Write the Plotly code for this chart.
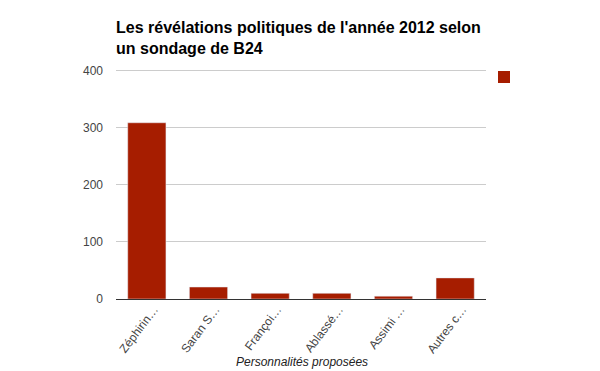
import plotly.graph_objects as go

categories = ["Zéphirin…", "Saran S…", "Françoi…", "Ablassé…", "Assimi …", "Autres c…"]
values = [309, 21, 10, 10, 5, 37]
y_ticks = [0, 100, 200, 300, 400]

color = "#a61d00"

fig = go.Figure()
fig.add_trace(go.Bar(x=categories, y=values, marker_color=color, showlegend=False))

# legend swatch (legend has no label in the original); plot spans page y 68..299
fig.add_shape(type="rect", xref="paper", yref="paper",
              x0=(498 - 116) / 370, x1=(510 - 116) / 370,
              y0=(299 - 83) / 231, y1=(299 - 71) / 231,
              fillcolor=color, line=dict(width=0))

fig.add_annotation(text="<i>Personnalités proposées</i>", xref="paper", yref="paper",
                   x=0.503, y=-63 / 231, xanchor="center", yanchor="middle",
                   showarrow=False, font=dict(size=12, color="#222"))

fig.update_layout(
    width=600, height=371,
    paper_bgcolor="white", plot_bgcolor="white",
    margin=dict(l=108, r=122, t=60, b=80, autoexpand=False),
    font=dict(family="Liberation Sans, Arial, sans-serif", color="#444"),
    title=dict(text="<b>Les révélations politiques de l'année 2012 selon<br>un sondage de B24</b>",
               x=108/600, xanchor="left", y=0.933, yanchor="top",
               font=dict(size=16, color="black")),
    bargap=0.38,
    showlegend=False,
    xaxis=dict(tickangle=-53, tickfont=dict(size=12, color="#444"),
               showline=False, ticks="", automargin=False,
               ticklabelshift=7, ticklabelstandoff=0),
    yaxis=dict(range=[0, 405], tickvals=y_ticks, showgrid=True, gridcolor="#cccccc",
               tickfont=dict(size=12, color="#444"), zeroline=True,
               zerolinecolor="#333333", zerolinewidth=1, ticks="", ticklen=0,
               ticklabelstandoff=12, automargin=False),
)

fig.write_html("out.html")
